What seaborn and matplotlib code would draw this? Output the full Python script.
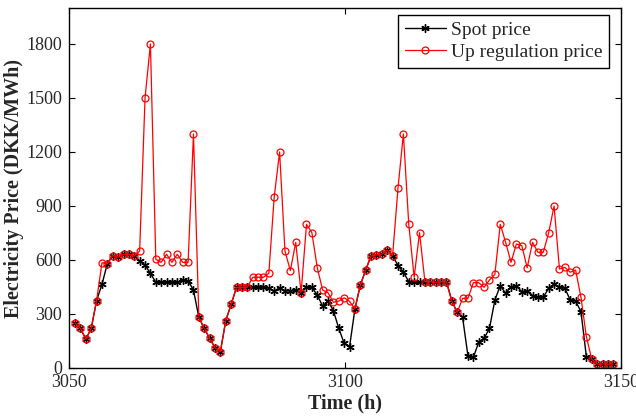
import numpy as np
import pandas as pd
import matplotlib
matplotlib.use("Agg")
import matplotlib.pyplot as plt
import seaborn as sns

# Hourly prices (DKK/MWh)
spot_price = [
    250, 220, 160, 220, 375, 465, 580, 625, 615, 632,
    632, 622, 596, 572, 526, 476, 476, 476, 476, 476,
    489, 485, 433, 281, 220, 165, 113, 91, 263, 354,
    448, 448, 448, 448, 448, 448, 443, 428, 446, 430,
    428, 433, 418, 448, 448, 405, 344, 372, 318, 220,
    137, 118, 328, 461, 544, 624, 628, 633, 656, 624,
    569, 532, 480, 476, 476, 480, 480, 476, 480, 480,
    372, 309, 282, 67, 59, 143, 165, 220, 378, 457,
    415, 452, 455, 424, 428, 402, 396, 393, 443, 465,
    452, 443, 378, 372, 313, 63, 48, 22, 22, 22,
    22,
]
up_regulation_price = [
    250, 220, 160, 220, 375, 585, 580, 625, 615, 632,
    632, 622, 650, 1500, 1800, 604, 587, 632, 587, 632,
    587, 587, 1300, 281, 220, 165, 113, 91, 263, 354,
    448, 448, 448, 504, 504, 504, 526, 950, 1200, 650,
    541, 698, 418, 798, 752, 557, 433, 418, 365, 372,
    390, 370, 328, 461, 544, 624, 628, 633, 656, 624,
    1000, 1300, 800, 504, 752, 480, 480, 476, 480, 480,
    372, 309, 387, 387, 474, 474, 448, 489, 520, 798,
    698, 587, 689, 680, 557, 698, 643, 643, 752, 900,
    550, 559, 532, 544, 393, 174, 48, 22, 22, 22,
    22,
]
time_h = np.linspace(3051.1, 3148.6, len(spot_price))

x_ticks = [3050, 3100, 3150]
y_ticks = [0, 300, 600, 900, 1200, 1500, 1800]

df = pd.DataFrame({"time": time_h, "spot": spot_price, "up": up_regulation_price})

sns.set_style("ticks")
plt.rcParams["font.family"] = ["Liberation Serif", "DejaVu Serif"]

fig = plt.figure(figsize=(6.36, 4.16), dpi=100)
ax = fig.add_axes([69 / 636, 1 - 368 / 416, (621 - 69) / 636, (368 - 8) / 416])

# asterisk marker for the spot series, open circles for up regulation
sns.lineplot(data=df, x="time", y="spot", ax=ax, color="black", lw=1.0,
             marker=(6, 2, 0), markersize=6, markeredgewidth=1.0,
             markeredgecolor="black", label="Spot price")
sns.lineplot(data=df, x="time", y="up", ax=ax, color="#ff0000", lw=0.9,
             marker="o", markersize=5, markeredgewidth=0.9,
             markerfacecolor="none", markeredgecolor="#ff0000",
             label="Up regulation price")

ax.set_xlim(3050, 3150)
ax.set_ylim(0, 2000)
ax.set_xticks(x_ticks)
ax.set_yticks(y_ticks)
ax.tick_params(axis="both", direction="in", top=True, right=True, labelsize=13,
               length=4, width=0.8, color="black")
ax.tick_params(axis="y", pad=5)
ax.tick_params(axis="x", pad=4)
for s in ax.spines.values():
    s.set_linewidth(1.0)
    s.set_color("black")
    s.set_visible(True)

ax.set_xlabel("Time (h)", fontsize=14.5, fontweight="bold")
ax.set_ylabel("Electricity Price (DKK/MWh)", fontsize=14.5, fontweight="bold")
ax.xaxis.set_label_coords(0.5, -0.072)
ax.yaxis.set_label_coords(-0.081, 0.5)

leg = ax.legend(loc="upper right", bbox_to_anchor=(0.978, 0.981), borderaxespad=0,
                fontsize=14, frameon=True, fancybox=False, edgecolor="black",
                framealpha=1, borderpad=0.35, labelspacing=0.2,
                handlelength=2.1, handletextpad=0.25)
leg.get_frame().set_linewidth(1.0)

fig.savefig("out.png", dpi=100)
